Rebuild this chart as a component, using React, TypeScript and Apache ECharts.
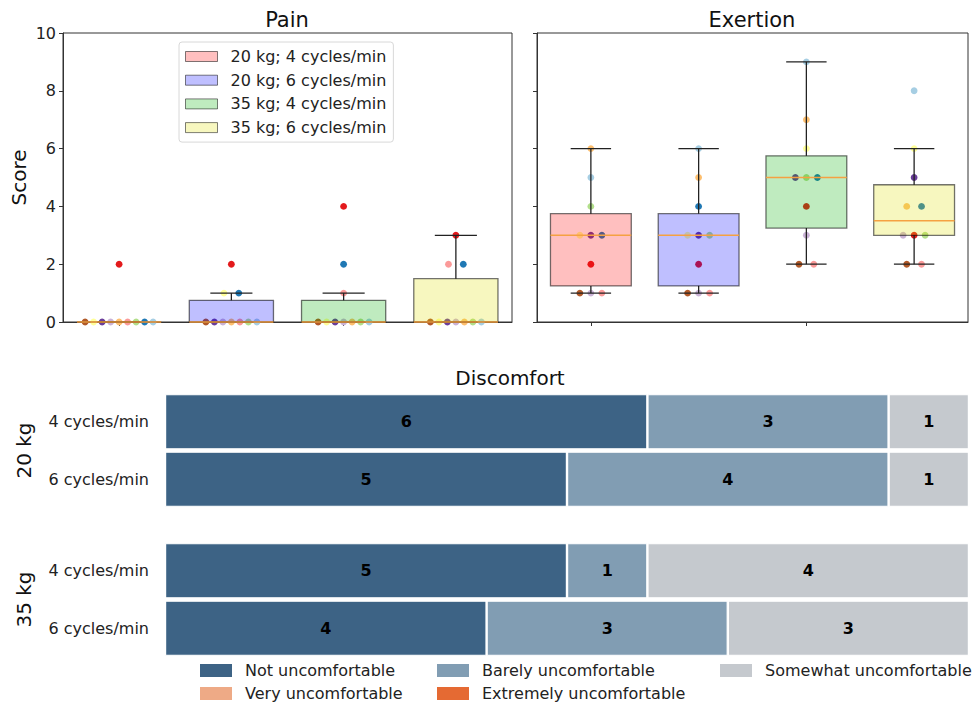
import React, { useEffect, useRef } from 'react';
import * as echarts from 'echarts';

const groupNames = ['20 kg; 4 cycles/min', '20 kg; 6 cycles/min', '35 kg; 4 cycles/min', '35 kg; 6 cycles/min'];
const boxFills = ['rgba(255,0,0,0.25)', 'rgba(0,0,255,0.25)', 'rgba(0,175,0,0.25)', 'rgba(222,222,0,0.25)'];
const participantColors = ['#b15928', '#ffff99', '#6a3d9a', '#cab2d6', '#fdbf6f', '#fb9a99', '#b2df8a', '#1f78b4', '#a6cee3', '#e31a1c'];

const scoreTicks = [0, 2, 4, 6, 8, 10];

// Pain scores per group (display order) and participant colour index
const painValues = [
  [0, 0, 0, 0, 0, 0, 0, 0, 0, 2],
  [0, 0, 0, 0, 0, 0, 0, 1, 1, 2],
  [0, 0, 0, 0, 0, 0, 0, 1, 2, 4],
  [0, 0, 0, 0, 0, 0, 0, 2, 2, 3],
];
const painColors = [
  [0, 1, 2, 3, 4, 5, 6, 7, 8, 9],
  [0, 2, 3, 4, 5, 6, 8, 1, 7, 9],
  [0, 1, 2, 3, 4, 6, 8, 5, 7, 9],
  [0, 1, 2, 3, 4, 6, 8, 5, 7, 9],
];

// Exertion scores per group
const exertionValues = [
  [6, 5, 4, 3, 3, 3, 2, 1, 1, 1],
  [6, 5, 4, 3, 3, 3, 2, 1, 1, 1],
  [9, 7, 6, 5, 5, 5, 4, 3, 2, 2],
  [8, 6, 5, 4, 4, 3, 3, 3, 2, 2],
];
const exertionColors = [
  [4, 8, 6, 1, 2, 7, 9, 0, 3, 5],
  [8, 4, 7, 1, 2, 6, 9, 0, 3, 5],
  [8, 4, 1, 2, 6, 7, 9, 3, 0, 5],
  [8, 1, 2, 4, 7, 3, 9, 6, 0, 5],
];

// Discomfort
const discomfortLevels = ['Not uncomfortable', 'Barely uncomfortable', 'Somewhat uncomfortable', 'Very uncomfortable', 'Extremely uncomfortable'];
const discomfortColors = ['#3d6385', '#819db3', '#c5c9ce', '#eeaa86', '#e56a33'];
const rateLabels = ['4 cycles/min', '6 cycles/min'];
const loadLabels = ['20 kg', '35 kg'];
// counts[level] = [4 cycles/min, 6 cycles/min]
const discomfort20 = [[6, 5], [3, 4], [1, 1], [0, 0], [0, 0]];
const discomfort35 = [[5, 4], [1, 3], [4, 3], [0, 0], [0, 0]];

const FONT = 'DejaVu Sans';

function quantile(sorted: number[], q: number) {
  const pos = (sorted.length - 1) * q;
  const lo = Math.floor(pos);
  const hi = Math.ceil(pos);
  return sorted[lo] + (sorted[hi] - sorted[lo]) * (pos - lo);
}
function boxStats(vals: number[]) {
  const s = [...vals].sort((a, b) => a - b);
  const q1 = quantile(s, 0.25);
  const med = quantile(s, 0.5);
  const q3 = quantile(s, 0.75);
  const iqr = q3 - q1;
  const lowF = q1 - 1.5 * iqr;
  const highF = q3 + 1.5 * iqr;
  const wLo = Math.min(...s.filter((v) => v >= lowF));
  const wHi = Math.max(...s.filter((v) => v <= highF));
  return [wLo, q1, med, q3, wHi];
}
function spacing(n: number) {
  if (n <= 1) return 0;
  if (n === 2) return 14.8;
  if (n === 3) return 11;
  return 8.5;
}
function pointData(values: number[][], colors: number[][]) {
  const out: number[][] = [];
  values.forEach((vals, g) => {
    const counts: Record<number, number> = {};
    vals.forEach((v) => (counts[v] = (counts[v] || 0) + 1));
    const seen: Record<number, number> = {};
    vals.forEach((v, i) => {
      const n = counts[v];
      const k = seen[v] || 0;
      seen[v] = k + 1;
      const off = (k - (n - 1) / 2) * spacing(n);
      out.push([g, v, off, colors[g][i]]);
    });
  });
  return out;
}

export default function App() {
  const ref = useRef<HTMLDivElement>(null);
  useEffect(() => {
    if (!ref.current) return;
    const chart = echarts.init(ref.current, undefined, { renderer: 'svg' });

    const boxSeries = (panel: number, values: number[][]) =>
      values.map((vals, g) => {
        const st = boxStats(vals);
        const fill = boxFills[g];
        return {
          type: 'custom',
          name: groupNames[g],
          xAxisIndex: panel,
          yAxisIndex: panel,
          z: 3,
          itemStyle: { color: fill },
          data: [[g, ...st]],
          renderItem: (params: any, api: any) => {
            const c = api.value(0);
            const pMin = api.coord([c, api.value(1)]);
            const pQ1 = api.coord([c, api.value(2)]);
            const pMed = api.coord([c, api.value(3)]);
            const pQ3 = api.coord([c, api.value(4)]);
            const pMax = api.coord([c, api.value(5)]);
            const band = api.size([1, 0])[0];
            const bw = band * 0.75;
            const cw = band * 0.375;
            const cx = pMin[0];
            const lineStyle = { stroke: '#222', lineWidth: 1.3 };
            return {
              type: 'group',
              children: [
                { type: 'line', shape: { x1: cx, y1: pQ1[1], x2: cx, y2: pMin[1] }, style: lineStyle },
                { type: 'line', shape: { x1: cx, y1: pQ3[1], x2: cx, y2: pMax[1] }, style: lineStyle },
                { type: 'line', shape: { x1: cx - cw / 2, y1: pMin[1], x2: cx + cw / 2, y2: pMin[1] }, style: lineStyle },
                { type: 'line', shape: { x1: cx - cw / 2, y1: pMax[1], x2: cx + cw / 2, y2: pMax[1] }, style: lineStyle },
                {
                  type: 'rect',
                  shape: { x: cx - bw / 2, y: pQ3[1], width: bw, height: pQ1[1] - pQ3[1] },
                  style: { fill, stroke: 'rgba(0,0,0,0.55)', lineWidth: 1.3 },
                },
                { type: 'line', shape: { x1: cx - bw / 2, y1: pMed[1], x2: cx + bw / 2, y2: pMed[1] }, style: { stroke: '#f5a142', lineWidth: 1.5 } },
              ],
            };
          },
        };
      });

    const pointSeries = (panel: number, values: number[][], colors: number[][]) => ({
      type: 'custom',
      name: 'points' + panel,
      xAxisIndex: panel,
      yAxisIndex: panel,
      z: 2,
      data: pointData(values, colors),
      renderItem: (params: any, api: any) => {
        const p = api.coord([api.value(0), api.value(1)]);
        return {
          type: 'circle',
          shape: { cx: p[0] + api.value(2), cy: p[1], r: 3.4 },
          style: { fill: participantColors[api.value(3)] },
        };
      },
    });

    const barSeries = (gridIdx: number, counts: number[][]) =>
      counts.map((vals, lvl) => ({
        type: 'bar',
        name: discomfortLevels[lvl],
        xAxisIndex: gridIdx,
        yAxisIndex: gridIdx,
        stack: 'st' + gridIdx,
        barCategoryGap: '4%',
        itemStyle: { color: discomfortColors[lvl], borderColor: '#fff', borderWidth: 1.2 },
        label: {
          show: true,
          position: 'inside',
          color: '#000',
          fontWeight: 'bold',
          fontSize: 16,
          fontFamily: FONT,
          formatter: (p: any) => (p.value > 0 ? String(p.value) : ''),
        },
        data: vals,
      }));

    const topX = (gridIndex: number) => ({
      type: 'category',
      gridIndex,
      data: groupNames,
      boundaryGap: true,
      axisLine: { lineStyle: { color: '#333', width: 1 } },
      axisTick: { show: true, alignWithLabel: true, length: 4, lineStyle: { color: '#333' } },
      axisLabel: { show: false },
      splitLine: { show: false },
    });
    const topY = (gridIndex: number, labels: boolean) => ({
      type: 'value',
      gridIndex,
      min: 0,
      max: 10,
      interval: 2,
      name: labels ? 'Score' : '',
      nameLocation: 'middle',
      nameGap: 34,
      nameTextStyle: { fontSize: 20, fontFamily: FONT, color: '#111' },
      axisLine: { show: true, lineStyle: { color: '#333', width: 1 } },
      axisTick: { show: true, length: 4, lineStyle: { color: '#333' } },
      axisLabel: { show: labels, fontSize: 16, fontFamily: FONT, color: '#222', margin: 7, formatter: (v: number) => (scoreTicks.includes(v) ? String(v) : '') },
      splitLine: { show: false },
    });
    const botX = (gridIndex: number) => ({
      type: 'value',
      gridIndex,
      min: 0,
      max: 10,
      show: false,
    });
    const botY = (gridIndex: number, name: string) => ({
      type: 'category',
      gridIndex,
      data: rateLabels,
      inverse: true,
      name,
      nameLocation: 'middle',
      nameGap: 131,
      nameRotate: 90,
      nameTextStyle: { fontSize: 20, fontFamily: FONT, color: '#111' },
      axisLine: { show: false },
      axisTick: { show: false },
      axisLabel: { fontSize: 16, fontFamily: FONT, color: '#222', margin: 16 },
    });

    const legendText = {
      fontSize: 16,
      fontFamily: FONT,
      color: '#222',
      lineHeight: 17,
      rich: { pad: { width: 8, height: 17 }, t: { fontSize: 16, fontFamily: FONT, color: '#222', lineHeight: 17 } },
    };
    const legendFmt = (n: string) => `{pad|}{t|${n}}`;
    const bottomLegend = (left: number, names: string[]) => ({
      left,
      top: 662,
      orient: 'vertical',
      selectedMode: false,
      padding: 0,
      itemWidth: 32,
      itemHeight: 13,
      itemGap: 6,
      icon: 'rect',
      textStyle: legendText,
      formatter: legendFmt,
      data: names.map((n) => ({ name: n, itemStyle: { borderWidth: 0 } })),
    });

    const option: any = {
      animation: false,
      backgroundColor: '#fff',
      textStyle: { fontFamily: FONT },
      grid: [
        { left: 63, top: 33, width: 449, height: 289, show: true, borderColor: '#333', borderWidth: 1, backgroundColor: 'transparent' },
        { left: 537, top: 33, width: 431, height: 289, show: true, borderColor: '#333', borderWidth: 1, backgroundColor: 'transparent' },
        { left: 165, top: 393, width: 804, height: 115 },
        { left: 165, top: 542, width: 804, height: 115 },
      ],
      xAxis: [topX(0), topX(1), botX(2), botX(3)],
      yAxis: [topY(0, true), topY(1, false), botY(2, loadLabels[0]), botY(3, loadLabels[1])],
      legend: [
        {
          left: 179,
          top: 42,
          orient: 'vertical',
          selectedMode: false,
          backgroundColor: 'rgba(255,255,255,0.85)',
          borderColor: '#d8d8d8',
          borderWidth: 1,
          borderRadius: 3,
          padding: [6, 7, 6, 6],
          itemWidth: 32,
          itemHeight: 10,
          itemGap: 6.7,
          icon: 'rect',
          textStyle: legendText,
          formatter: legendFmt,
          data: groupNames.map((n, i) => ({ name: n, itemStyle: { color: boxFills[i], borderColor: 'rgba(0,0,0,0.5)', borderWidth: 1 } })),
        },
        bottomLegend(200, [discomfortLevels[0], discomfortLevels[3]]),
        bottomLegend(437, [discomfortLevels[1], discomfortLevels[4]]),
        bottomLegend(720, [discomfortLevels[2]]),
      ],
      graphic: [
        { type: 'text', x: 287, y: 20, style: { text: 'Pain', font: `21px "${FONT}"`, fill: '#111', align: 'center', verticalAlign: 'middle' } },
        { type: 'text', x: 752, y: 20, style: { text: 'Exertion', font: `21px "${FONT}"`, fill: '#111', align: 'center', verticalAlign: 'middle' } },
        { type: 'text', x: 510, y: 378, style: { text: 'Discomfort', font: `20px "${FONT}"`, fill: '#111', align: 'center', verticalAlign: 'middle' } },
      ],
      series: [
        pointSeries(0, painValues, painColors),
        ...boxSeries(0, painValues),
        pointSeries(1, exertionValues, exertionColors),
        ...boxSeries(1, exertionValues),
        ...barSeries(2, discomfort20),
        ...barSeries(3, discomfort35),
      ],
    };
    chart.setOption(option);
    return () => chart.dispose();
  }, []);
  return <div ref={ref} style={{ position: 'fixed', left: 0, top: 0, width: 974, height: 703 }} />;
}
